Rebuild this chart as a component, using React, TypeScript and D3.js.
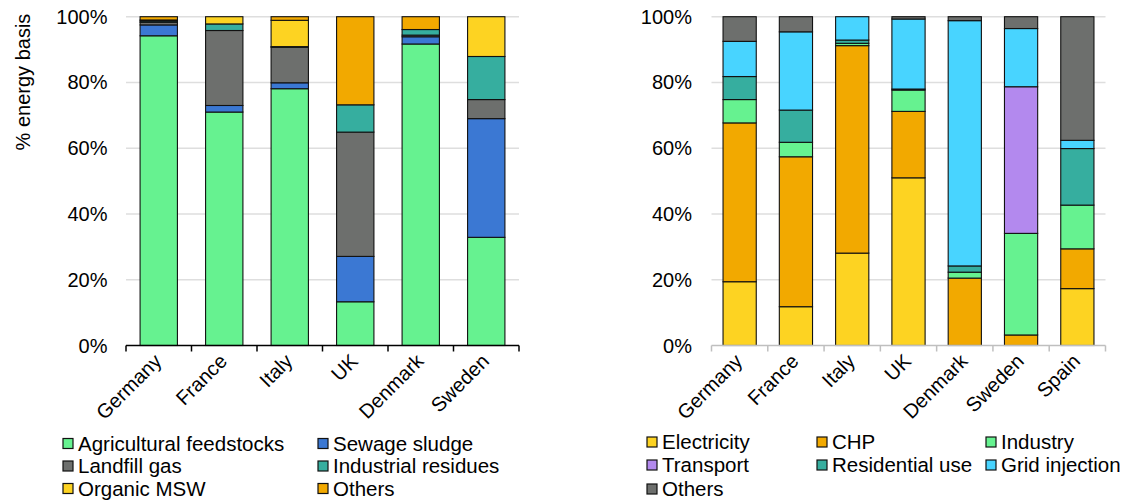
import React from "react";
import * as d3 from "d3";

const leftCountries = ["Germany", "France", "Italy", "UK", "Denmark", "Sweden"];
const agricultural = [94.2, 71.0, 78.1, 13.3, 91.7, 32.9];
const sewage = [3.3, 2.0, 1.8, 13.8, 2.2, 36.1];
const landfill = [0.8, 22.8, 10.8, 37.8, 0.5, 5.8];
const industrialRes = [0.4, 2.0, 0.2, 8.3, 1.7, 13.1];
const organicMSW = [0.3, 2.2, 8.0, 0.0, 0.0, 12.1];
const othersFeed = [1.0, 0.0, 1.1, 26.8, 3.9, 0.0];

const rightCountries = ["Germany", "France", "Italy", "UK", "Denmark", "Sweden", "Spain"];
const electricity = [19.4, 11.8, 28.1, 51.0, 0, 0, 17.3];
const chp = [48.3, 45.6, 63.1, 20.2, 20.5, 3.2, 12.1];
const industry = [7.1, 4.4, 0.7, 6.5, 1.8, 30.9, 13.3];
const transport = [0, 0, 0, 0, 0, 44.6, 0];
const residential = [7.0, 9.8, 1.0, 0.3, 1.9, 0, 17.2];
const gridInjection = [10.7, 23.8, 7.1, 21.3, 74.6, 17.7, 2.5];
const othersUse = [7.5, 4.6, 0, 0.7, 1.2, 3.6, 37.6];

const yTicks = [0, 20, 40, 60, 80, 100];

const leftSeries = [
  { name: "Agricultural feedstocks", values: agricultural, color: "#66f290" },
  { name: "Sewage sludge", values: sewage, color: "#3b78d3" },
  { name: "Landfill gas", values: landfill, color: "#6d6f6d" },
  { name: "Industrial residues", values: industrialRes, color: "#36ae9f" },
  { name: "Organic MSW", values: organicMSW, color: "#fdd322" },
  { name: "Others", values: othersFeed, color: "#f2a900" },
];

const rightSeries = [
  { name: "Electricity", values: electricity, color: "#fdd322" },
  { name: "CHP", values: chp, color: "#f2a900" },
  { name: "Industry", values: industry, color: "#66f290" },
  { name: "Transport", values: transport, color: "#b389ee" },
  { name: "Residential use", values: residential, color: "#36ae9f" },
  { name: "Grid injection", values: gridInjection, color: "#48d4ff" },
  { name: "Others", values: othersUse, color: "#6d6f6d" },
];

const FONT = "'Liberation Sans', Arial, sans-serif";

type Series = { name: string; values: number[]; color: string };

function Panel({
  countries,
  series,
  x0,
  x1,
  inner,
  axisColor,
  labelX,
}: {
  countries: string[];
  series: Series[];
  x0: number;
  x1: number;
  inner: number;
  axisColor: string;
  labelX: number;
}) {
  const y = d3.scaleLinear().domain([0, 100]).range([345.5, 16.7]);
  const x = d3
    .scaleBand<string>()
    .domain(countries)
    .range([x0, x1])
    .paddingInner(inner)
    .paddingOuter(inner / 2);
  const keys = series.map((s) => s.name + "_k");
  const rows = countries.map((c, i) => {
    const r: any = { country: c };
    series.forEach((s, j) => (r[keys[j]] = s.values[i]));
    return r;
  });
  const stacked = d3.stack<any>().keys(keys)(rows);
  const step = x.step();
  const boundaries = d3.range(countries.length + 1).map((i) => x0 + i * step);
  return (
    <g>
      {yTicks.map((t) => (
        <g key={t}>
          {t > 0 && (
            <line x1={x0} x2={x1} y1={y(t)} y2={y(t)} stroke="#dedede" strokeWidth={1.5} />
          )}
          <text
            x={labelX}
            y={y(t)}
            dy="0.35em"
            textAnchor="end"
            fontSize={20}
            fontFamily={FONT}
            fill="#000"
          >
            {t}%
          </text>
        </g>
      ))}
      {stacked.map((layer, j) => (
        <g key={j}>
          {layer.map((d, i) =>
            d[1] - d[0] > 0 ? (
              <rect
                key={i}
                x={x(countries[i])}
                width={x.bandwidth()}
                y={y(d[1])}
                height={y(d[0]) - y(d[1])}
                fill={series[j].color}
                stroke="#111"
                strokeWidth={1.1}
              />
            ) : null
          )}
        </g>
      ))}
      <line x1={x0} x2={x1} y1={y(0)} y2={y(0)} stroke={axisColor} strokeWidth={1.5} />
      {boundaries.map((b, i) => (
        <line key={i} x1={b} x2={b} y1={y(0)} y2={y(0) + 6} stroke={axisColor} strokeWidth={1.5} />
      ))}
      {countries.map((c) => {
        const cx = (x(c) as number) + x.bandwidth() / 2;
        return (
          <text
            key={c}
            transform={`translate(${cx + 4},${y(0) + 17}) rotate(-45)`}
            textAnchor="end"
            fontSize={20}
            fontFamily={FONT}
            fill="#000"
          >
            {c}
          </text>
        );
      })}
    </g>
  );
}

function Legend({
  series,
  cols,
  rowYs,
}: {
  series: Series[];
  cols: number[];
  rowYs: number[];
}) {
  return (
    <g>
      {series.map((s, i) => {
        const cx = cols[i % cols.length];
        const cy = rowYs[Math.floor(i / cols.length)];
        return (
          <g key={s.name + i}>
            <rect x={cx} y={cy - 5} width={10} height={10} fill={s.color} stroke="#111" strokeWidth={1.2} />
            <text x={cx + 15} y={cy} dy="0.35em" fontSize={20.5} fontFamily={FONT} fill="#000">
              {s.name}
            </text>
          </g>
        );
      })}
    </g>
  );
}

export default function App() {
  return (
    <svg
      width={1126}
      height={503}
      style={{ position: "absolute", left: 0, top: 0, background: "#fff" }}
    >
      <rect width={1126} height={503} fill="#fff" />
      <text
        transform="translate(30,82) rotate(-90)"
        textAnchor="middle"
        fontSize={20}
        fontFamily={FONT}
        fill="#000"
      >
        % energy basis
      </text>
      <Panel
        countries={leftCountries}
        series={leftSeries}
        x0={126}
        x1={519}
        inner={0.43}
        axisColor="#000"
        labelX={107.5}
      />
      <Panel
        countries={rightCountries}
        series={rightSeries}
        x0={711.5}
        x1={1105.5}
        inner={0.41}
        axisColor="#bfbfbf"
        labelX={692}
      />
      <Legend series={leftSeries} cols={[63, 318]} rowYs={[443.5, 466, 488.5]} />
      <Legend series={rightSeries} cols={[647, 817, 986]} rowYs={[442, 465, 489]} />
    </svg>
  );
}
